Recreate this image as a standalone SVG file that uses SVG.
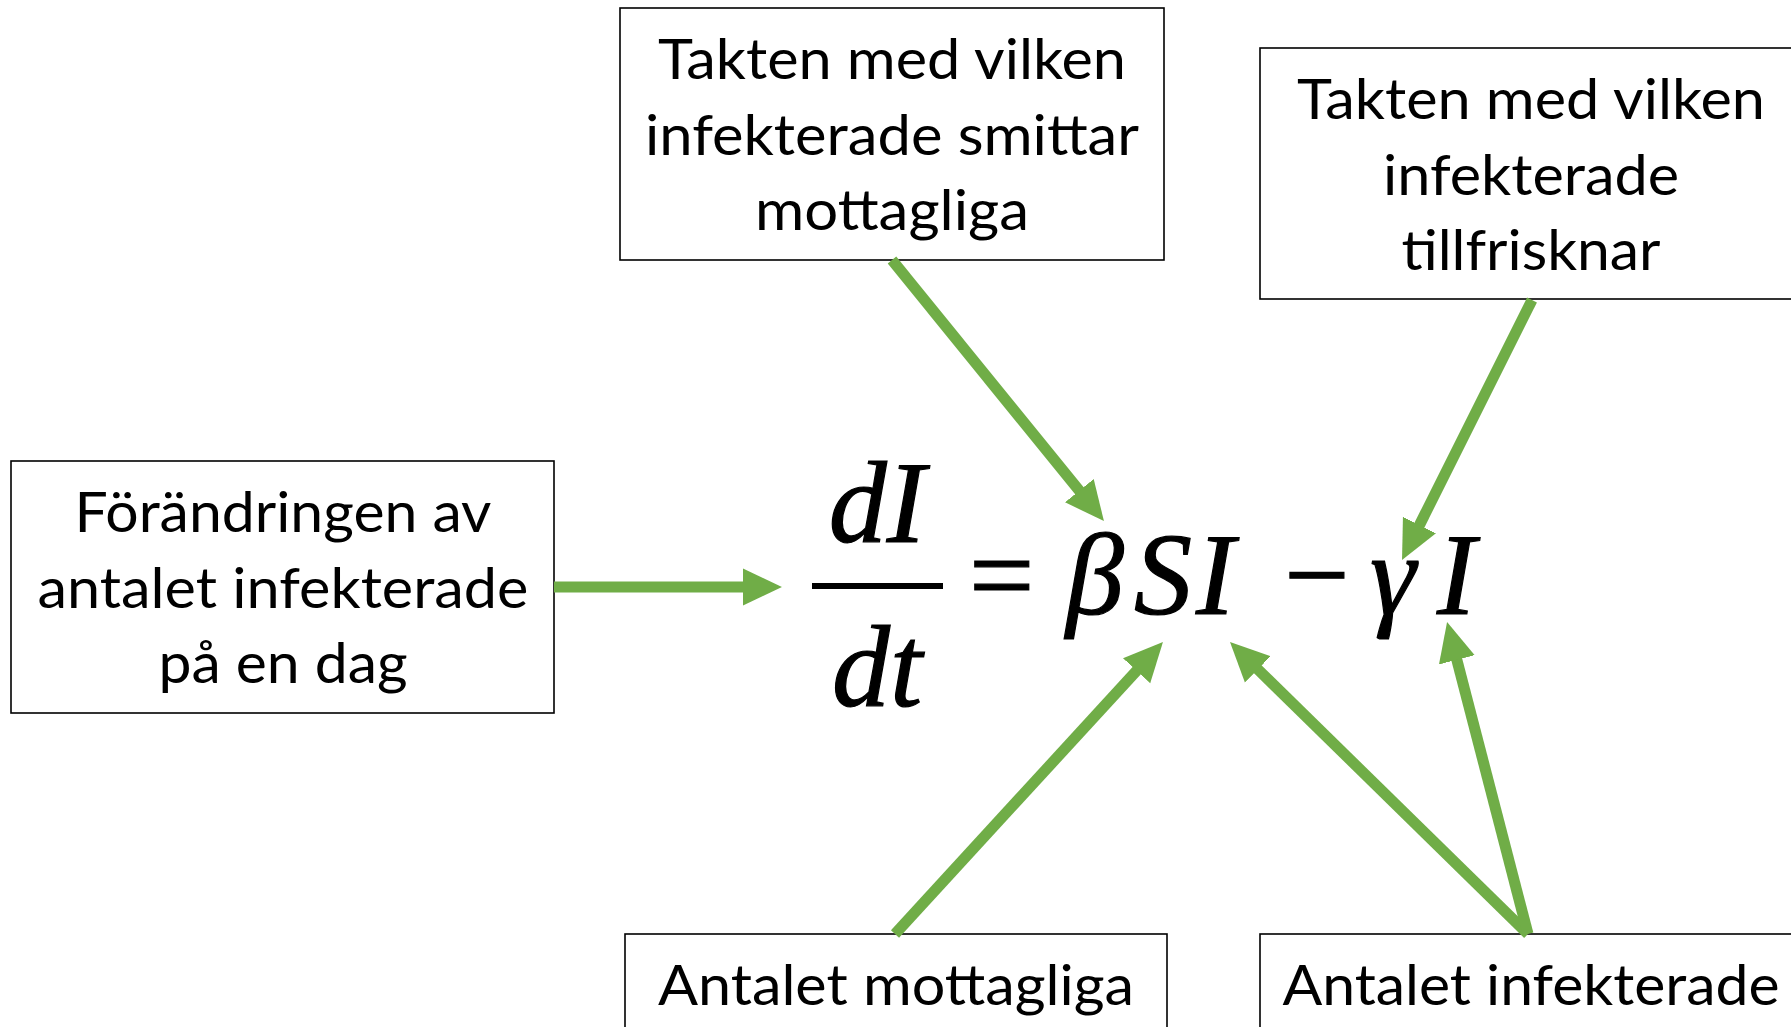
<svg xmlns="http://www.w3.org/2000/svg" width="1791" height="1027" viewBox="0 0 1791 1027">
<style>
.box{fill:#fff;stroke:#000;stroke-width:1.6}
.lbl{font-family:Lato,"Liberation Sans",sans-serif;font-size:57px;fill:#000;text-anchor:middle}
.m{font-family:"Liberation Serif","Times New Roman",serif;font-size:116px;fill:#000;stroke:#000;stroke-width:1.2}
.mi{font-style:italic}
.conn{stroke:#70AD47;stroke-width:11;fill:none;marker-end:url(#ah)}
</style>
<defs>
<marker id="ah" markerUnits="userSpaceOnUse" markerWidth="40" markerHeight="40" refX="1" refY="18" orient="auto" viewBox="0 0 39 36">
<path d="M0,0 L38,18 L0,36 Z" fill="#70AD47"/>
</marker>
</defs>
<rect width="1791" height="1027" fill="#fff"/>

<g id="node-change">
<rect class="box" x="11" y="461" width="543" height="252"/>
<text class="lbl" x="283" y="532" textLength="417" lengthAdjust="spacingAndGlyphs">Förändringen av</text>
<text class="lbl" x="283" y="608" textLength="491" lengthAdjust="spacingAndGlyphs">antalet infekterade</text>
<text class="lbl" x="283" y="683" textLength="249" lengthAdjust="spacingAndGlyphs">på en dag</text>
</g>

<g id="node-beta">
<rect class="box" x="620" y="8" width="544" height="252"/>
<text class="lbl" x="892" y="79" textLength="468" lengthAdjust="spacingAndGlyphs">Takten med vilken</text>
<text class="lbl" x="892" y="155" textLength="494" lengthAdjust="spacingAndGlyphs">infekterade smittar</text>
<text class="lbl" x="892" y="230" textLength="274" lengthAdjust="spacingAndGlyphs">mottagliga</text>
</g>

<g id="node-gamma">
<rect class="box" x="1260" y="48" width="545" height="251"/>
<text class="lbl" x="1531" y="119" textLength="468" lengthAdjust="spacingAndGlyphs">Takten med vilken</text>
<text class="lbl" x="1531" y="195" textLength="296" lengthAdjust="spacingAndGlyphs">infekterade</text>
<text class="lbl" x="1531" y="270" textLength="259" lengthAdjust="spacingAndGlyphs">tillfrisknar</text>
</g>

<g id="node-S">
<rect class="box" x="625" y="934" width="542" height="120"/>
<text class="lbl" x="896" y="1005" textLength="476" lengthAdjust="spacingAndGlyphs">Antalet mottagliga</text>
</g>

<g id="node-I">
<rect class="box" x="1260" y="934" width="545" height="120"/>
<text class="lbl" x="1531" y="1005" textLength="497" lengthAdjust="spacingAndGlyphs">Antalet infekterade</text>
</g>

<g id="equation">
<text class="m mi" x="877" y="542" text-anchor="middle">dI</text>
<rect x="812" y="583" width="131" height="6" fill="#000"/>
<text class="m mi" x="877" y="706" text-anchor="middle">dt</text>
<text class="m" x="969" y="614">=</text>
<text class="m mi" x="1066" y="614">β</text>
<text class="m mi" x="1134" y="614">S</text>
<text class="m mi" x="1196" y="614">I</text>
<text class="m" x="1284" y="614">−</text>
<text class="m mi" x="1370" y="614">γ</text>
<text class="m mi" x="1437" y="614">I</text>
</g>

<g id="connectors">
<path class="conn" d="M554,587 L744,587"/>
<path class="conn" d="M892,260 L1080,491.5"/>
<path class="conn" d="M1532,300 L1419,526"/>
<path class="conn" d="M895,934 L1137.3,670"/>
<path class="conn" d="M1528,934 L1257.1,668.6"/>
<path class="conn" d="M1528,934 L1456.6,658.8"/>
</g>
</svg>
